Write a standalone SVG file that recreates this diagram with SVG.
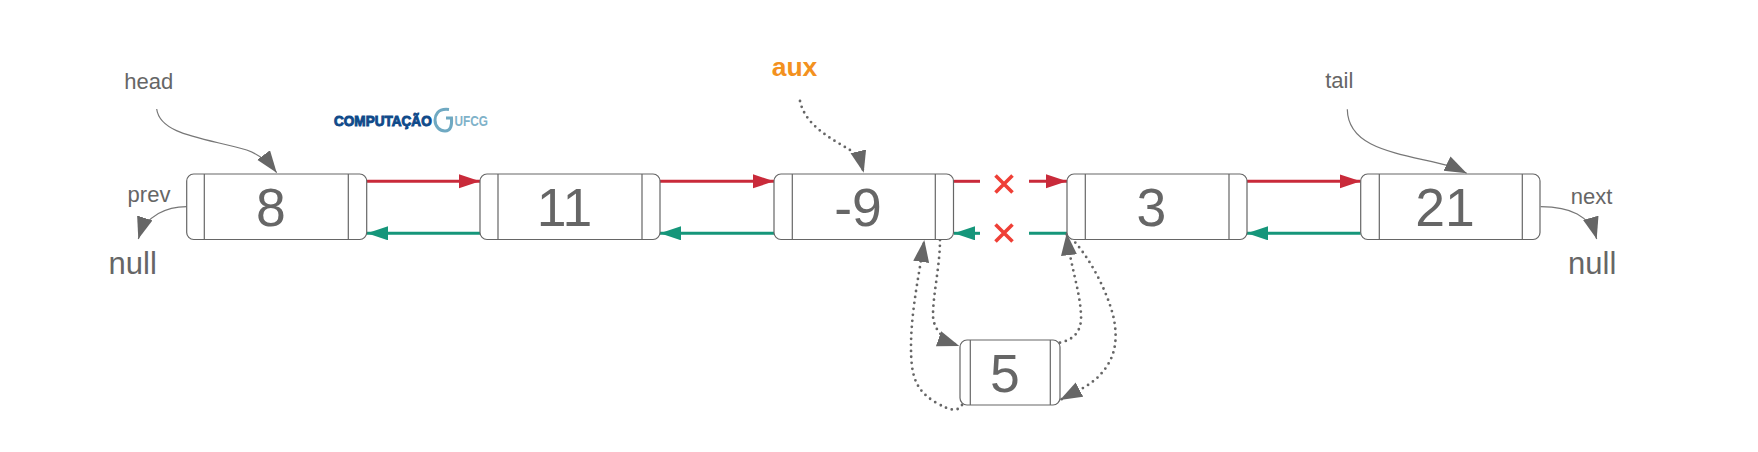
<svg xmlns="http://www.w3.org/2000/svg" width="1758" height="452" viewBox="0 0 1758 452">
<style>
text{font-family:"Liberation Sans",Arial,sans-serif;fill:#666666}
.box{fill:#fff;stroke:#666;stroke-width:1.2}
.div{stroke:#666;stroke-width:1.2;fill:none}
.val{font-size:53.5px;text-anchor:middle}
.lbl{font-size:22px;text-anchor:middle}
.nul{font-size:31px;text-anchor:middle}
.thin{fill:none;stroke:#777;stroke-width:1.2;marker-end:url(#gh)}
.dot{fill:none;stroke:#666;stroke-width:2.8;stroke-linecap:round;stroke-dasharray:0 6;marker-end:url(#gh)}
.red{fill:none;stroke:#c92a3a;stroke-width:3}
.grn{fill:none;stroke:#15967a;stroke-width:3}
.x{fill:none;stroke:#ef3f36;stroke-width:3.6}
</style>
<defs>
<marker id="gh" markerUnits="userSpaceOnUse" markerWidth="23" markerHeight="17" refX="22" refY="8" orient="auto"><path d="M0 0L22 8L0 16Z" fill="#666"/></marker>
<marker id="rh" markerUnits="userSpaceOnUse" markerWidth="22" markerHeight="15" refX="21" refY="7" orient="auto"><path d="M0 0L21 7L0 14Z" fill="#c92a3a"/></marker>
<marker id="gr" markerUnits="userSpaceOnUse" markerWidth="22" markerHeight="15" refX="21" refY="7" orient="auto"><path d="M0 0L21 7L0 14Z" fill="#15967a"/></marker>
</defs>
<rect width="1758" height="452" fill="#fff"/>
<g id="connectors">
<path class="red" marker-end="url(#rh)" d="M367 181.3H480"/>
<path class="red" marker-end="url(#rh)" d="M660 181.3H774"/>
<path class="red" d="M954 181.3H980"/>
<path class="red" marker-end="url(#rh)" d="M1029 181.3H1067"/>
<path class="red" marker-end="url(#rh)" d="M1247 181.3H1360.7"/>
<path class="grn" marker-end="url(#gr)" d="M480 233.3H367"/>
<path class="grn" marker-end="url(#gr)" d="M774 233.3H660"/>
<path class="grn" marker-end="url(#gr)" d="M980 233.3H954"/>
<path class="grn" d="M1067 233.3H1029"/>
<path class="grn" marker-end="url(#gr)" d="M1360.7 233.3H1247"/>
<path class="thin" d="M156.7 109C160 135 205 138 246.7 150C258 154 268 161 276.7 172.7"/>
<path class="thin" d="M186.7 206.7C168 207 146 214 138.3 239"/>
<path class="thin" d="M1347.3 109.3C1348 150 1400 153 1450 166C1455 168 1460 170 1466.7 173.3"/>
<path class="thin" d="M1540.7 206.7C1570 207 1590 215 1596.7 239"/>
<path class="dot" d="M800 101C805 125 830 138 850 150C857 155 861 162 863.7 172.7"/>
<path class="dot" d="M940 240C940 265 933 295 933 315C933 330 945 341 959.3 346"/>
<path class="dot" d="M962 405C958 412 950 411 935 402C915 390 911 375 911 347C911 310 920 270 924.3 240"/>
<path class="dot" d="M1060 342.7C1072 340 1082 333 1081 315C1080 290 1070 265 1066.7 233.3"/>
<path class="dot" d="M1067 234C1085 250 1105 285 1113 315C1120 345 1112 362 1100 375C1090 386 1075 392 1060 400"/>
<path class="x" d="M995.5 175.5L1012.5 192.5M1012.5 175.5L995.5 192.5"/>
<path class="x" d="M995.5 224.5L1012.5 241.5M1012.5 224.5L995.5 241.5"/>
</g>
<g id="node-8"><rect class="box" x="186.7" y="174" width="180" height="65.5" rx="7"/><path class="div" d="M204.3 174V239.5M348.3 174V239.5"/><text class="val" x="271" y="225.5">8</text></g>
<g id="node-11"><rect class="box" x="480" y="174" width="180" height="65.5" rx="7"/><path class="div" d="M498 174V239.5M642 174V239.5"/><text class="val" x="564.5" y="225.5">11</text></g>
<g id="node-minus9"><rect class="box" x="774" y="174" width="179.5" height="65.5" rx="7"/><path class="div" d="M792.3 174V239.5M935.3 174V239.5"/><text class="val" x="858" y="225.5">-9</text></g>
<g id="node-3"><rect class="box" x="1067" y="174" width="180" height="65.5" rx="7"/><path class="div" d="M1085.3 174V239.5M1229 174V239.5"/><text class="val" x="1151.5" y="225.5">3</text></g>
<g id="node-21"><rect class="box" x="1360.7" y="174" width="179.3" height="65.5" rx="7"/><path class="div" d="M1379.3 174V239.5M1522.3 174V239.5"/><text class="val" x="1445" y="225.5">21</text></g>
<g id="node-5"><rect class="box" x="960" y="340" width="100" height="65" rx="7"/><path class="div" d="M970.3 340V405M1050.3 340V405"/><text class="val" x="1005" y="391.5">5</text></g>
<g id="label-head"><text class="lbl" x="148.8" y="88.7">head</text></g>
<g id="label-prev"><text class="lbl" x="149" y="202.3">prev</text></g>
<g id="label-tail"><text class="lbl" x="1339.3" y="88.3">tail</text></g>
<g id="label-next"><text class="lbl" x="1591.5" y="203.5">next</text></g>
<g id="label-null-left"><text class="nul" x="132.7" y="274.3">null</text></g>
<g id="label-null-right"><text class="nul" x="1592.2" y="274.3">null</text></g>
<g id="label-aux"><text x="794.5" y="75.7" font-size="26.5" font-weight="700" text-anchor="middle" style="fill:#f39120">aux</text></g>
<g id="logo">
<text x="334" y="125.7" font-size="15" font-weight="700" textLength="97.7" lengthAdjust="spacingAndGlyphs" style="fill:#0f4a8a;stroke:#0f4a8a;stroke-width:1">COMPUTAÇÃO</text>
<path d="M449 109.5C437 108 435 116 435 120C435 127 440 131 445 131C451 131 452 125 451.5 118H446" fill="none" stroke="#6fa9c2" stroke-width="3"/>
<text x="454.5" y="125.7" font-size="14" font-weight="700" textLength="33.5" lengthAdjust="spacingAndGlyphs" style="fill:#7fb2c9">UFCG</text>
</g>
</svg>
